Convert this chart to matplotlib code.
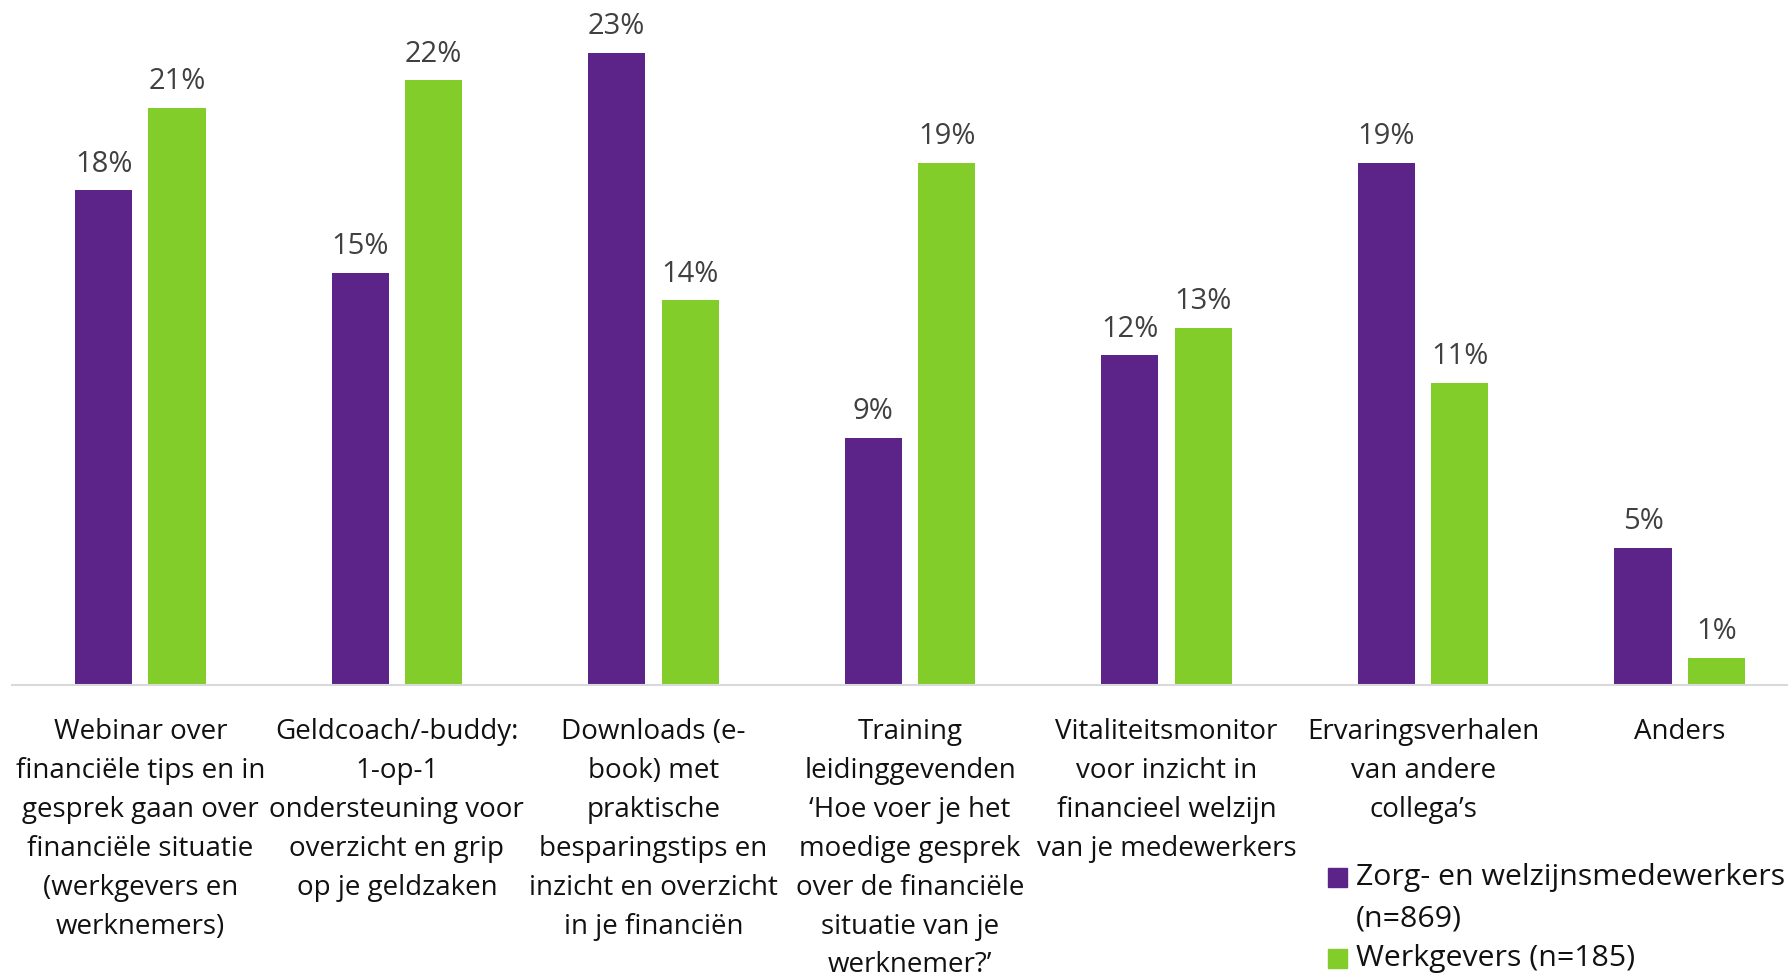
import numpy as np
import matplotlib.pyplot as plt
from matplotlib.patches import Rectangle

categories = [
    "Webinar over\nfinanciële tips en in\ngesprek gaan over\nfinanciële situatie\n(werkgevers en\nwerknemers)",
    "Geldcoach/-buddy:\n1-op-1\nondersteuning voor\noverzicht en grip\nop je geldzaken",
    "Downloads (e-\nbook) met\npraktische\nbesparingstips en\ninzicht en overzicht\nin je financiën",
    "Training\nleidinggevenden\n‘Hoe voer je het\nmoedige gesprek\nover de financiële\nsituatie van je\nwerknemer?’",
    "Vitaliteitsmonitor\nvoor inzicht in\nfinancieel welzijn\nvan je medewerkers",
    "Ervaringsverhalen\nvan andere\ncollega’s",
    "Anders",
]
zorg = [18, 15, 23, 9, 12, 19, 5]
werkgevers = [21, 22, 14, 19, 13, 11, 1]
series_names = ["Zorg- en welzijnsmedewerkers\n(n=869)", "Werkgevers (n=185)"]

purple = "#5C2489"
green = "#82CD2A"

plt.rcParams['font.family'] = ['Open Sans', 'DejaVu Sans']

W, H = 1788, 979
fig = plt.figure(figsize=(W / 100, H / 100), dpi=100)
ax = fig.add_axes([12 / W, 1 - 686 / H, 1796 / W, 686 / H])

x = np.arange(len(categories))
w = 0.223
off = 0.143
b1 = ax.bar(x - off, zorg, w, color=purple)
b2 = ax.bar(x + off, werkgevers, w, color=green)

for bars in (b1, b2):
    for r in bars:
        ax.annotate(f"{int(r.get_height())}%", (r.get_x() + r.get_width() / 2, r.get_height()),
                    xytext=(0, 9), textcoords="offset points", ha="center", va="bottom",
                    fontsize=21, color="#404040")

ax.set_xlim(-0.5, len(categories) - 0.5)
ax.set_ylim(0, 24.95)
ax.set_xticks(x)
ax.set_xticklabels(categories, fontsize=20, linespacing=1.52, color="#111111")
ax.tick_params(axis="x", length=0, pad=23)
ax.set_yticks([])
for s in ["top", "right", "left"]:
    ax.spines[s].set_visible(False)
ax.spines["bottom"].set_color("#D9D9D9")
ax.spines["bottom"].set_linewidth(1.5)

# legend drawn by hand: square sits next to the first text line
line_y = [878, 919, 959]
legend_rows = [(purple, series_names[0].split("\n")), (green, series_names[1].split("\n"))]
k = 0
for col, lines in legend_rows:
    y0 = line_y[k]
    fig.patches.append(Rectangle((1328 / W, 1 - (y0 + 9.5) / H), 19 / W, 19 / H,
                                 transform=fig.transFigure, color=col))
    for ln in lines:
        fig.text(1356 / W, 1 - line_y[k] / H, ln, fontsize=21.8, va="center", ha="left",
                 color="#111111")
        k += 1

fig.savefig("out.png", dpi=100)
